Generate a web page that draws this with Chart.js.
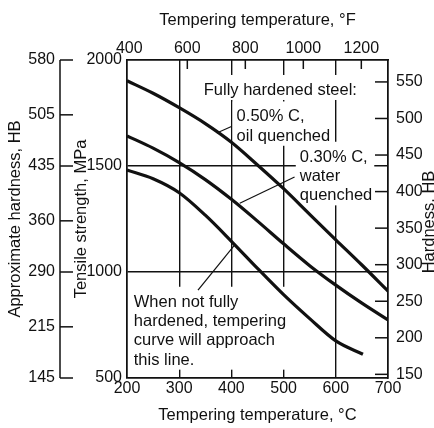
<!DOCTYPE html>
<html>
<head>
<meta charset="utf-8">
<script src="https://cdn.jsdelivr.net/npm/chart.js@4/dist/chart.umd.min.js"></script>
<style>
  html, body { margin: 0; padding: 0; background: #fff; }
  canvas { display: block; }
</style>
</head>
<body>
<canvas id="grafico" width="434" height="428"></canvas>
<script>
// Temperatura de revenido (°C) y resistencia a la tracción (MPa)
const temperaturas = [200, 250, 300, 350, 400, 450, 500, 550, 600, 650, 700];
const aceite050 = [1902, 1843, 1775, 1700, 1612, 1505, 1393, 1272, 1152, 1033, 910];
const agua030 = [1642, 1584, 1516, 1436, 1343, 1240, 1133, 1030, 938, 853, 774];
const temperaturasBajo = [200, 250, 300, 350, 400, 450, 500, 550, 600, 652];
const noTemplado = [1481, 1440, 1374, 1268, 1145, 1017, 893, 780, 675, 612];

// Marcas de los ejes
const ticksC = [200, 300, 400, 500, 600, 700];
const ticksF = [400, 600, 800, 1000, 1200];
const ticksMPa = [500, 1000, 1500, 2000];
const ticksHBaprox = [145, 215, 290, 360, 435, 505, 580];
const ticksHB = [150, 200, 250, 300, 350, 400, 450, 500, 550];

// Textos dentro del gráfico, anclados en (°C, MPa)
const notas = [
  { t: 347, s: 1835, lineas: ['Fully hardened steel:'] },
  { t: 410, s: 1710, lineas: ['0.50% C,', 'oil quenched'] },
  { t: 531, s: 1520, lineas: ['0.30% C,', 'water', 'quenched'] },
  { t: 213, s: 836, lineas: ['When not fully', 'hardened, tempering', 'curve will approach', 'this line.'] }
];
// Líneas guía de las notas: desde el texto hasta la curva
const guias = [
  { desde: [400, 1686], hasta: [372, 1656] },
  { desde: [521, 1448], hasta: [416, 1324] },
  { desde: [336, 915], hasta: [406, 1127] }
];

const NEGRO = '#111';
const familia = "'Liberation Sans', Arial, sans-serif";
const fuenteNum = { family: familia, size: 16 };
const fuenteTitulo = { family: familia, size: 16.5 };
const fuenteTxt = '16.5px ' + familia;
const fijarTicks = lista => escala => { escala.ticks = lista.map(v => ({ value: v })); };
const sinComas = v => String(v);

const puntos = (xs, ys) => xs.map((x, i) => ({ x: x, y: ys[i] }));

const plugNotas = {
  id: 'notas',
  beforeDatasetsDraw(chart) {
    const ctx = chart.ctx;
    const sx = chart.scales.x, sy = chart.scales.y;
    ctx.save();
    ctx.font = fuenteTxt;
    ctx.textBaseline = 'alphabetic';
    ctx.textAlign = 'left';
    notas.forEach(n => {
      const x = sx.getPixelForValue(n.t);
      const y = sy.getPixelForValue(n.s);
      const ancho = Math.max(...n.lineas.map(l => ctx.measureText(l).width));
      const alto = 19.3;
      // fondo blanco que tapa la rejilla detrás del texto
      ctx.fillStyle = '#fff';
      ctx.fillRect(x - 4, y - 20, ancho + 6, alto * (n.lineas.length - 1) + 25);
      ctx.fillStyle = NEGRO;
      n.lineas.forEach((l, i) => ctx.fillText(l, x, y + i * alto));
    });
    ctx.strokeStyle = NEGRO;
    ctx.lineWidth = 1.2;
    guias.forEach(g => {
      ctx.beginPath();
      ctx.moveTo(sx.getPixelForValue(g.desde[0]), sy.getPixelForValue(g.desde[1]));
      ctx.lineTo(sx.getPixelForValue(g.hasta[0]), sy.getPixelForValue(g.hasta[1]));
      ctx.stroke();
    });
    ctx.restore();
  },
  afterDraw(chart) {
    const ctx = chart.ctx;
    const area = chart.chartArea;
    const { x2, hb, hr } = chart.scales;
    ctx.save();
    ctx.strokeStyle = NEGRO;
    ctx.lineWidth = 1.5;
    // marcas °F hacia dentro (la de 400 °F queda pegada al borde y no se dibuja)
    ticksF.forEach(v => {
      const px = x2.getPixelForValue(v);
      if (px < area.left + 6) return;
      ctx.beginPath(); ctx.moveTo(px, area.top); ctx.lineTo(px, area.top + 9); ctx.stroke();
    });
    // dureza HB a la derecha, marcas hacia dentro
    ticksHB.forEach(v => {
      const py = hr.getPixelForValue(v);
      ctx.beginPath(); ctx.moveTo(area.right, py); ctx.lineTo(area.right - 13, py); ctx.stroke();
    });
    // eje exterior de dureza aproximada
    const xEje = hb.right - 13;
    ctx.beginPath();
    ctx.moveTo(xEje, hb.getPixelForValue(580));
    ctx.lineTo(xEje, hb.getPixelForValue(145));
    ctx.stroke();
    ticksHBaprox.forEach(v => {
      const py = hb.getPixelForValue(v);
      ctx.beginPath(); ctx.moveTo(xEje, py); ctx.lineTo(hb.right, py); ctx.stroke();
    });
    // título del eje derecho
    ctx.fillStyle = NEGRO;
    ctx.font = fuenteTxt;
    ctx.textAlign = 'center';
    ctx.textBaseline = 'alphabetic';
    ctx.translate(434, (area.top + area.bottom) / 2 + 3);
    ctx.rotate(-Math.PI / 2);
    ctx.fillText('Hardness, HB', 0, 0);
    ctx.restore();
  }
};

const lineaBase = { borderColor: NEGRO, borderWidth: 3.2, pointRadius: 0, fill: false, cubicInterpolationMode: 'monotone' };

new Chart(document.getElementById('grafico'), {
  type: 'line',
  data: {
    datasets: [
      Object.assign({ label: '0.50% C, oil quenched', data: puntos(temperaturas, aceite050) }, lineaBase),
      Object.assign({ label: '0.30% C, water quenched', data: puntos(temperaturas, agua030) }, lineaBase),
      Object.assign({ label: 'When not fully hardened', data: puntos(temperaturasBajo, noTemplado) }, lineaBase)
    ]
  },
  options: {
    responsive: false,
    animation: false,
    devicePixelRatio: 1,
    layout: { padding: 0 },
    plugins: { legend: { display: false }, tooltip: { enabled: false } },
    scales: {
      x: {
        type: 'linear', position: 'bottom', min: 200, max: 700,
        afterBuildTicks: fijarTicks(ticksC),
        afterFit: s => { s.height = 50; },
        grid: { color: NEGRO, lineWidth: 1.4, drawTicks: false },
        border: { color: NEGRO, width: 1.6 },
        ticks: { color: NEGRO, font: fuenteNum, padding: 1, maxRotation: 0, autoSkip: false, callback: sinComas },
        title: { display: true, text: 'Tempering temperature, °C', color: NEGRO,
                 font: fuenteTitulo, padding: { top: 0, bottom: 3 } }
      },
      x2: {
        type: 'linear', position: 'top', min: 392, max: 1292,
        afterBuildTicks: fijarTicks(ticksF),
        afterFit: s => { s.height = 60; },
        grid: { display: false, drawTicks: false },
        border: { color: NEGRO, width: 1.6 },
        ticks: { color: NEGRO, font: fuenteNum, padding: 2, maxRotation: 0, autoSkip: false, callback: sinComas },
        title: { display: true, text: 'Tempering temperature, °F', color: NEGRO,
                 font: fuenteTitulo, padding: { top: 11, bottom: 0 } }
      },
      y: {
        type: 'linear', position: 'left', weight: 0, min: 500, max: 2000,
        afterBuildTicks: fijarTicks(ticksMPa),
        afterFit: s => { s.width = 54; },
        grid: { color: NEGRO, lineWidth: 1.4, drawTicks: false },
        border: { color: NEGRO, width: 1.6 },
        ticks: { color: NEGRO, font: fuenteNum, padding: 5, callback: sinComas },
        title: { display: true, text: 'Tensile strength, MPa', color: NEGRO,
                 font: { family: familia, size: 16.5, lineHeight: 1 }, padding: 0 }
      },
      hb: {
        axis: 'y', type: 'linear', position: 'left', weight: 1, min: 145, max: 580,
        afterBuildTicks: fijarTicks(ticksHBaprox),
        afterFit: s => { s.width = 73; },
        grid: { display: false, drawTicks: false },
        border: { display: false },
        ticks: { color: NEGRO, font: fuenteNum, padding: 18, callback: sinComas },
        title: { display: true, text: 'Approximate hardness, HB', color: NEGRO,
                 font: fuenteTitulo, padding: { top: 6, bottom: 0 } }
      },
      hr: {
        axis: 'y', type: 'linear', position: 'right', min: 145, max: 580,
        afterBuildTicks: fijarTicks(ticksHB),
        afterFit: s => { s.width = 46; },
        grid: { display: false, drawTicks: false },
        border: { color: NEGRO, width: 1.6 },
        ticks: { color: NEGRO, font: fuenteNum, padding: 8, callback: sinComas }
      }
    }
  },
  plugins: [plugNotas]
});
</script>
</body>
</html>
